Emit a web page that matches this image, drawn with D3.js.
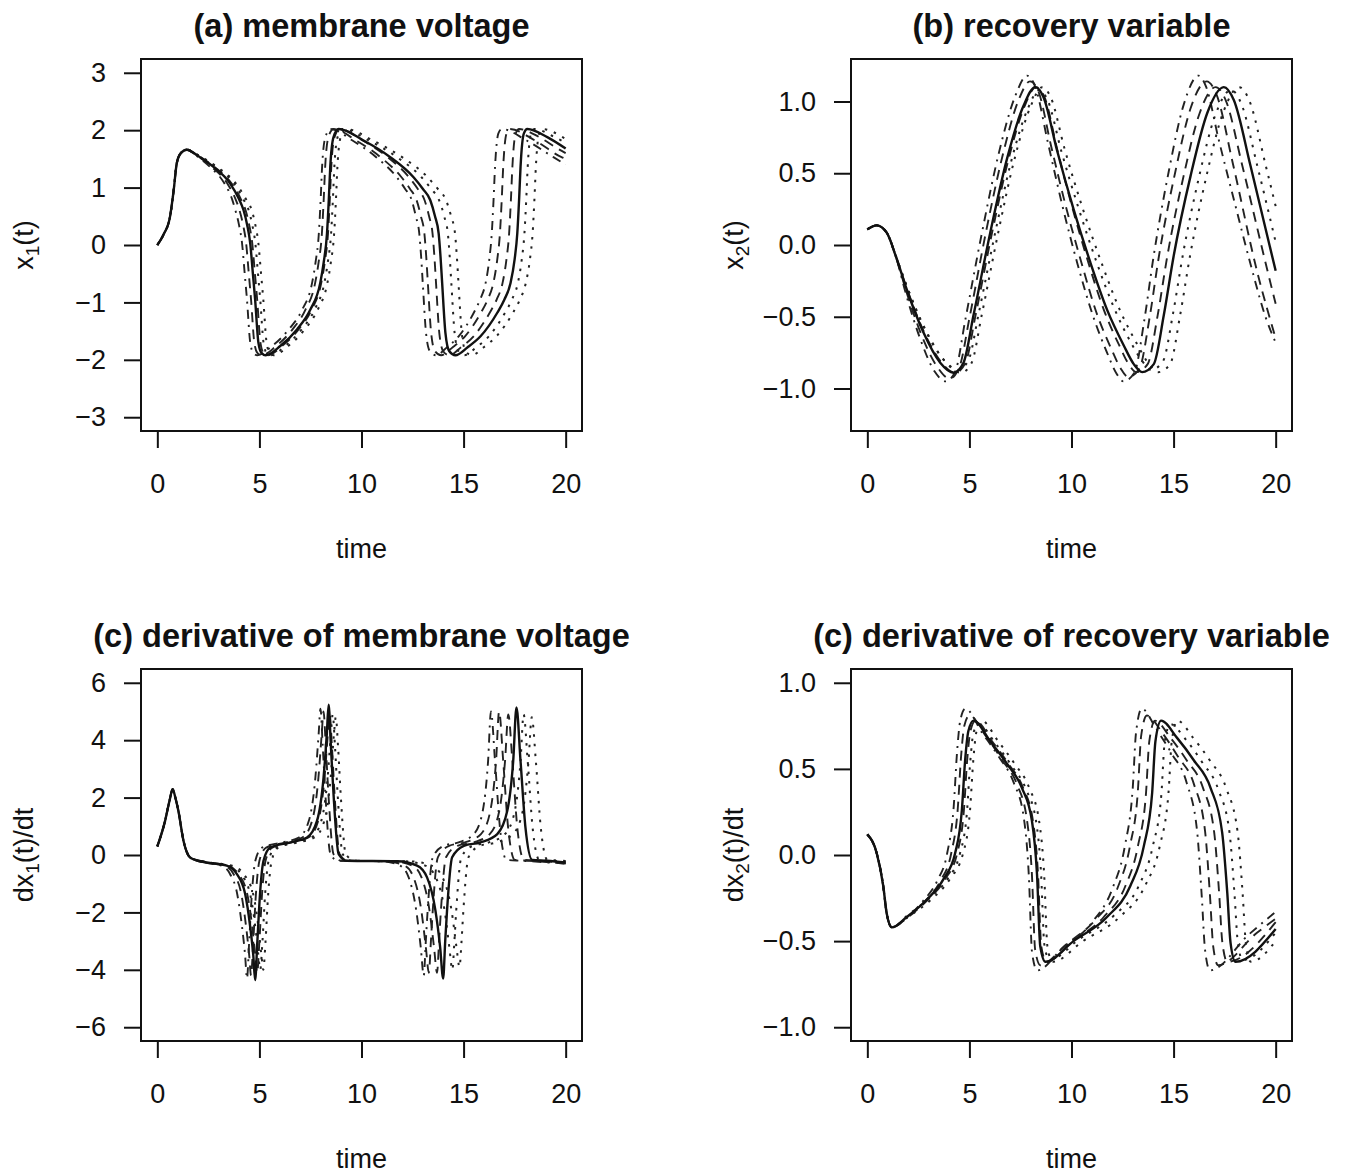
<!DOCTYPE html>
<html>
<head>
<meta charset="utf-8">
<script src="https://cdn.jsdelivr.net/npm/d3@7"></script>
<style>
  body { margin: 0; background: #fff; }
  text { font-family: "Liberation Sans", Arial, Helvetica, sans-serif; fill: #111; }
</style>
</head>
<body>
<div id="plot"></div>
<script>
// tick values
var timeTicks = [0, 5, 10, 15, 20]
var voltTicks = [-3, -2, -1, 0, 1, 2, 3]
var recovTicks = [-1.0, -0.5, 0.0, 0.5, 1.0]
var dVoltTicks = [-6, -4, -2, 0, 2, 4, 6]
var dRecovTicks = [-1.0, -0.5, 0.0, 0.5, 1.0]

// (a) membrane voltage: [time, value], true curve then 5 estimates
var voltTrue = [[0,0],[0.3,0.18],[0.62,0.49],[0.8,0.95],[0.95,1.42],[1.15,1.6],[1.44,1.66],[2.0,1.55],[2.75,1.36],[3.57,1.07],[4.0,0.8],[4.22,0.61],[4.4,0.35],[4.55,0.03],[4.68,-0.5],[4.79,-0.95],[4.95,-1.7],[5.1,-1.88],[5.3,-1.92],[6.02,-1.76],[6.84,-1.47],[7.49,-1.13],[7.98,-0.66],[8.15,-0.3],[8.31,0.2],[8.4,0.8],[8.47,1.36],[8.63,1.88],[8.88,2.02],[10.1,1.82],[11.41,1.53],[12.55,1.18],[13.0,0.98],[13.37,0.78],[13.6,0.5],[13.78,0.2],[13.87,-0.2],[13.95,-0.66],[14.11,-1.53],[14.3,-1.85],[14.6,-1.92],[15.2,-1.78],[15.83,-1.59],[16.65,-1.18],[17.0,-0.95],[17.3,-0.66],[17.5,-0.25],[17.63,0.2],[17.72,0.8],[17.79,1.36],[17.95,1.94],[18.12,2.02],[19.1,1.88],[20,1.68]]
var voltV1 = [[0,0],[0.3,0.18],[0.62,0.49],[0.8,0.95],[0.95,1.42],[1.15,1.6],[1.44,1.66],[1.93,1.55],[2.58,1.36],[3.29,1.07],[3.66,0.8],[3.82,0.61],[4.0,0.35],[4.15,0.03],[4.28,-0.5],[4.39,-0.95],[4.55,-1.7],[4.7,-1.88],[4.9,-1.92],[5.62,-1.76],[6.44,-1.47],[7.09,-1.13],[7.58,-0.66],[7.75,-0.3],[7.91,0.2],[8.0,0.8],[8.07,1.36],[8.23,1.88],[8.48,2.02],[9.56,1.82],[10.72,1.53],[11.73,1.18],[12.13,0.98],[12.46,0.78],[12.66,0.5],[12.83,0.2],[12.92,-0.2],[13.0,-0.66],[13.16,-1.53],[13.35,-1.85],[13.65,-1.92],[14.19,-1.78],[14.76,-1.59],[15.5,-1.18],[15.81,-0.95],[16.08,-0.66],[16.26,-0.25],[16.38,0.2],[16.47,0.8],[16.54,1.36],[16.7,1.94],[16.87,2.02],[18.09,1.82],[19.4,1.53],[20,1.4]]
var voltV2 = [[0,0],[0.3,0.18],[0.62,0.49],[0.8,0.95],[0.95,1.42],[1.15,1.6],[1.44,1.66],[1.97,1.55],[2.66,1.36],[3.43,1.07],[3.83,0.8],[4.02,0.61],[4.2,0.35],[4.35,0.03],[4.48,-0.5],[4.59,-0.95],[4.75,-1.7],[4.9,-1.88],[5.1,-1.92],[5.82,-1.76],[6.62,-1.47],[7.25,-1.13],[7.73,-0.66],[7.9,-0.3],[8.06,0.2],[8.15,0.8],[8.22,1.36],[8.38,1.88],[8.63,2.02],[9.74,1.82],[10.93,1.53],[11.96,1.18],[12.37,0.98],[12.7,0.78],[12.91,0.5],[13.08,0.2],[13.17,-0.2],[13.25,-0.66],[13.41,-1.53],[13.6,-1.85],[13.9,-1.92],[14.47,-1.78],[15.07,-1.59],[15.85,-1.18],[16.18,-0.95],[16.46,-0.66],[16.65,-0.25],[16.78,0.2],[16.87,0.8],[16.94,1.36],[17.1,1.94],[17.27,2.02],[18.5,1.82],[19.8,1.53],[20,1.5]]
var voltV3 = [[0,0],[0.3,0.18],[0.62,0.49],[0.8,0.95],[0.95,1.42],[1.15,1.6],[1.44,1.66],[2.02,1.55],[2.79,1.36],[3.64,1.07],[4.09,0.8],[4.32,0.61],[4.5,0.35],[4.65,0.03],[4.78,-0.5],[4.89,-0.95],[5.05,-1.7],[5.2,-1.88],[5.4,-1.92],[6.11,-1.76],[6.92,-1.47],[7.55,-1.13],[8.03,-0.66],[8.2,-0.3],[8.36,0.2],[8.45,0.8],[8.52,1.36],[8.68,1.88],[8.93,2.02],[10.06,1.82],[11.28,1.53],[12.33,1.18],[12.75,0.98],[13.09,0.78],[13.31,0.5],[13.48,0.2],[13.57,-0.2],[13.65,-0.66],[13.81,-1.53],[14.0,-1.85],[14.3,-1.92],[14.88,-1.78],[15.49,-1.59],[16.28,-1.18],[16.62,-0.95],[16.91,-0.66],[17.1,-0.25],[17.23,0.2],[17.32,0.8],[17.39,1.36],[17.55,1.94],[17.72,2.02],[18.7,1.88],[19.6,1.68],[20,1.6]]
var voltV4 = [[0,0],[0.3,0.18],[0.62,0.49],[0.8,0.95],[0.95,1.42],[1.15,1.6],[1.44,1.66],[2.04,1.55],[2.86,1.36],[3.75,1.07],[4.21,0.8],[4.47,0.61],[4.65,0.35],[4.8,0.03],[4.93,-0.5],[5.04,-0.95],[5.2,-1.7],[5.35,-1.88],[5.55,-1.92],[6.26,-1.76],[7.07,-1.47],[7.7,-1.13],[8.18,-0.66],[8.35,-0.3],[8.51,0.2],[8.6,0.8],[8.67,1.36],[8.83,1.88],[9.08,2.02],[10.36,1.82],[11.74,1.53],[12.94,1.18],[13.41,0.98],[13.8,0.78],[14.05,0.5],[14.23,0.2],[14.32,-0.2],[14.4,-0.66],[14.56,-1.53],[14.75,-1.85],[15.05,-1.92],[15.63,-1.78],[16.24,-1.59],[17.03,-1.18],[17.37,-0.95],[17.66,-0.66],[17.85,-0.25],[17.98,0.2],[18.07,0.8],[18.14,1.36],[18.3,1.94],[18.47,2.02],[19.45,1.88],[20,1.78]]
var voltV5 = [[0,0],[0.3,0.18],[0.62,0.49],[0.8,0.95],[0.95,1.42],[1.15,1.6],[1.44,1.66],[2.07,1.55],[2.92,1.36],[3.85,1.07],[4.34,0.8],[4.62,0.61],[4.8,0.35],[4.95,0.03],[5.08,-0.5],[5.19,-0.95],[5.35,-1.7],[5.5,-1.88],[5.7,-1.92],[6.41,-1.76],[7.22,-1.47],[7.85,-1.13],[8.33,-0.66],[8.5,-0.3],[8.66,0.2],[8.75,0.8],[8.82,1.36],[8.98,1.88],[9.23,2.02],[10.56,1.82],[11.99,1.53],[13.24,1.18],[13.73,0.98],[14.14,0.78],[14.39,0.5],[14.58,0.2],[14.67,-0.2],[14.75,-0.66],[14.91,-1.53],[15.1,-1.85],[15.4,-1.92],[15.99,-1.78],[16.61,-1.59],[17.42,-1.18],[17.76,-0.95],[18.05,-0.66],[18.25,-0.25],[18.38,0.2],[18.47,0.8],[18.54,1.36],[18.7,1.94],[18.87,2.02],[19.85,1.88],[20,1.85]]

// (b) recovery variable
var recovTrue = [[0,0.109],[0.46,0.137],[0.95,0.086],[1.4,-0.08],[1.93,-0.31],[2.75,-0.61],[3.57,-0.82],[4.22,-0.89],[4.71,-0.82],[5.2,-0.49],[6.02,0.086],[6.84,0.6],[7.65,0.97],[8.22,1.10],[8.63,1.03],[9.29,0.66],[10.1,0.25],[10.92,-0.12],[11.74,-0.45],[12.56,-0.70],[13.05,-0.83],[13.46,-0.886],[14.03,-0.83],[14.52,-0.49],[15.0,-0.08],[15.83,0.48],[16.65,0.92],[17.46,1.10],[17.95,1.01],[18.77,0.55],[20,-0.18]]
var recovV1 = [[0,0.109],[0.46,0.137],[0.95,0.086],[1.4,-0.08],[1.87,-0.33],[2.58,-0.65],[3.29,-0.88],[3.84,-0.95],[4.31,-0.88],[4.8,-0.52],[5.62,0.09],[6.44,0.64],[7.25,1.04],[7.82,1.18],[8.23,1.1],[8.85,0.71],[9.56,0.27],[10.29,-0.13],[11.02,-0.48],[11.74,-0.75],[12.18,-0.89],[12.54,-0.95],[13.08,-0.89],[13.57,-0.52],[14.01,-0.09],[14.76,0.51],[15.5,0.98],[16.22,1.18],[16.6,1.1],[17.2,0.74],[18.0,0.29],[18.8,-0.15],[19.5,-0.5],[20,-0.68]]
var recovV2 = [[0,0.109],[0.46,0.137],[0.95,0.086],[1.4,-0.08],[1.9,-0.32],[2.66,-0.63],[3.43,-0.85],[4.03,-0.93],[4.51,-0.85],[5.0,-0.51],[5.81,0.09],[6.62,0.62],[7.41,1.01],[7.97,1.14],[8.38,1.07],[9.0,0.69],[9.74,0.26],[10.48,-0.12],[11.22,-0.47],[11.97,-0.73],[12.41,-0.86],[12.78,-0.92],[13.33,-0.86],[13.82,-0.51],[14.28,-0.08],[15.07,0.5],[15.85,0.96],[16.62,1.14],[17.1,1.05],[17.9,0.57],[19.1,-0.19],[20,-0.65]]
var recovV3 = [[0,0.109],[0.46,0.137],[0.95,0.086],[1.4,-0.08],[1.95,-0.31],[2.79,-0.61],[3.64,-0.82],[4.31,-0.89],[4.81,-0.82],[5.3,-0.49],[6.11,0.086],[6.92,0.6],[7.71,0.97],[8.27,1.10],[8.68,1.03],[9.31,0.66],[10.06,0.25],[10.82,-0.12],[11.58,-0.45],[12.34,-0.70],[12.8,-0.83],[13.18,-0.886],[13.73,-0.83],[14.22,-0.49],[14.69,-0.08],[15.49,0.48],[16.28,0.92],[17.06,1.10],[17.55,1.01],[18.37,0.55],[19.6,-0.18],[20,-0.41]]
var recovV4 = [[0,0.109],[0.46,0.137],[0.95,0.086],[1.4,-0.08],[1.97,-0.3],[2.86,-0.6],[3.75,-0.8],[4.46,-0.87],[4.96,-0.8],[5.45,-0.48],[6.26,0.084],[7.06,0.59],[7.86,0.95],[8.42,1.08],[8.83,1.01],[9.51,0.65],[10.36,0.25],[11.23,-0.12],[12.09,-0.44],[12.95,-0.69],[13.47,-0.81],[13.9,-0.87],[14.48,-0.81],[14.97,-0.48],[15.44,-0.08],[16.24,0.47],[17.03,0.9],[17.82,1.08],[18.3,0.99],[19.12,0.54],[20,0.02]]
var recovV5 = [[0,0.109],[0.46,0.137],[0.95,0.086],[1.4,-0.08],[1.99,-0.31],[2.92,-0.61],[3.86,-0.82],[4.6,-0.89],[5.11,-0.82],[5.6,-0.49],[6.41,0.086],[7.21,0.6],[8.01,0.97],[8.57,1.10],[8.98,1.03],[9.68,0.66],[10.56,0.25],[11.46,-0.12],[12.36,-0.45],[13.25,-0.70],[13.79,-0.83],[14.24,-0.886],[14.83,-0.83],[15.32,-0.49],[15.8,-0.08],[16.61,0.48],[17.42,0.92],[18.21,1.10],[18.7,1.01],[19.52,0.55],[20,0.27]]

// (c) derivative of membrane voltage
var dVoltTrue = [[0,0.3],[0.38,1.19],[0.6,1.9],[0.75,2.29],[0.9,1.95],[1.03,1.54],[1.28,0.5],[1.6,-0.08],[2.0,-0.2],[2.42,-0.26],[3.4,-0.37],[3.89,-0.66],[4.3,-1.35],[4.55,-2.51],[4.7,-3.5],[4.79,-4.36],[4.9,-3.0],[5.03,-1.35],[5.2,-0.2],[5.53,0.26],[6.51,0.44],[7.33,0.61],[7.82,1.19],[8.14,2.69],[8.3,4.2],[8.39,5.24],[8.5,3.8],[8.63,2.12],[8.88,0.03],[9.29,-0.2],[11.74,-0.22],[12.72,-0.37],[13.21,-0.78],[13.62,-1.93],[13.85,-3.2],[14.0,-4.3],[14.1,-3.0],[14.19,-1.93],[14.44,-0.08],[15.01,0.32],[15.83,0.44],[16.65,0.73],[17.14,1.54],[17.43,3.27],[17.59,5.14],[17.79,3.27],[18.03,0.96],[18.36,-0.17],[19.1,-0.2],[20,-0.26]]
var dVoltV1 = [[0,0.3],[0.38,1.19],[0.6,1.9],[0.75,2.29],[0.9,1.95],[1.03,1.54],[1.28,0.5],[1.59,-0.08],[1.93,-0.2],[2.29,-0.26],[3.14,-0.37],[3.56,-0.66],[3.91,-1.35],[4.15,-2.51],[4.3,-3.5],[4.39,-4.3],[4.5,-3.0],[4.63,-1.35],[4.8,-0.2],[5.13,0.26],[6.11,0.44],[6.93,0.61],[7.42,1.19],[7.74,2.69],[7.9,4.2],[7.99,5.1],[8.1,3.8],[8.23,2.12],[8.48,0.03],[8.85,-0.2],[11.02,-0.22],[11.88,-0.37],[12.31,-0.78],[12.68,-1.93],[12.9,-3.2],[13.05,-4.2],[13.15,-3.0],[13.24,-1.93],[13.49,-0.08],[14.02,0.32],[14.76,0.44],[15.5,0.73],[15.94,1.54],[16.2,3.27],[16.34,5.0],[16.54,3.27],[16.78,0.96],[17.1,-0.17],[17.85,-0.2],[20,-0.3]]
var dVoltV2 = [[0,0.3],[0.38,1.19],[0.6,1.9],[0.75,2.29],[0.9,1.95],[1.03,1.54],[1.28,0.5],[1.59,-0.08],[1.97,-0.2],[2.36,-0.26],[3.27,-0.37],[3.73,-0.66],[4.11,-1.35],[4.35,-2.51],[4.5,-3.5],[4.59,-4.2],[4.7,-3.0],[4.83,-1.35],[5.0,-0.2],[5.33,0.26],[6.29,0.44],[7.1,0.61],[7.58,1.19],[7.89,2.69],[8.05,4.2],[8.14,5.0],[8.25,3.8],[8.38,2.12],[8.63,0.03],[9.0,-0.2],[11.22,-0.22],[12.11,-0.37],[12.55,-0.78],[12.93,-1.93],[13.15,-3.2],[13.3,-4.1],[13.4,-3.0],[13.49,-1.93],[13.74,-0.08],[14.29,0.32],[15.07,0.44],[15.85,0.73],[16.31,1.54],[16.59,3.27],[16.74,5.0],[16.94,3.27],[17.18,0.96],[17.51,-0.17],[18.25,-0.2],[20,-0.3]]
var dVoltV3 = [[0,0.3],[0.38,1.19],[0.6,1.9],[0.75,2.29],[0.9,1.95],[1.03,1.54],[1.28,0.5],[1.6,-0.08],[2.02,-0.2],[2.45,-0.26],[3.47,-0.37],[3.97,-0.66],[4.4,-1.35],[4.65,-2.51],[4.8,-3.5],[4.89,-4.1],[5.0,-3.0],[5.13,-1.35],[5.3,-0.2],[5.63,0.26],[6.59,0.44],[7.4,0.61],[7.88,1.19],[8.19,2.69],[8.35,4.2],[8.44,4.9],[8.55,3.8],[8.68,2.12],[8.93,0.03],[9.31,-0.2],[11.58,-0.22],[12.49,-0.37],[12.94,-0.78],[13.33,-1.93],[13.55,-3.2],[13.7,-4.1],[13.8,-3.0],[13.89,-1.93],[14.14,-0.08],[14.7,0.32],[15.49,0.44],[16.28,0.73],[16.75,1.54],[17.03,3.27],[17.19,4.9],[17.39,3.27],[17.63,0.96],[17.96,-0.17],[18.7,-0.2],[20,-0.28]]
var dVoltV4 = [[0,0.3],[0.38,1.19],[0.6,1.9],[0.75,2.29],[0.9,1.95],[1.03,1.54],[1.28,0.5],[1.61,-0.08],[2.04,-0.2],[2.5,-0.26],[3.57,-0.37],[4.09,-0.66],[4.54,-1.35],[4.8,-2.51],[4.95,-3.5],[5.04,-4.0],[5.15,-3.0],[5.28,-1.35],[5.45,-0.2],[5.78,0.26],[6.74,0.44],[7.55,0.61],[8.03,1.19],[8.34,2.69],[8.5,4.2],[8.59,4.9],[8.7,3.8],[8.83,2.12],[9.08,0.03],[9.51,-0.2],[12.09,-0.22],[13.12,-0.37],[13.64,-0.78],[14.07,-1.93],[14.3,-3.2],[14.45,-4.0],[14.55,-3.0],[14.64,-1.93],[14.89,-0.08],[15.45,0.32],[16.24,0.44],[17.03,0.73],[17.51,1.54],[17.79,3.27],[17.94,4.9],[18.14,3.27],[18.38,0.96],[18.71,-0.17],[19.45,-0.2],[20,-0.23]]
var dVoltV5 = [[0,0.3],[0.38,1.19],[0.6,1.9],[0.75,2.29],[0.9,1.95],[1.03,1.54],[1.28,0.5],[1.61,-0.08],[2.07,-0.2],[2.55,-0.26],[3.66,-0.37],[4.22,-0.66],[4.69,-1.35],[4.95,-2.51],[5.1,-3.5],[5.19,-4.0],[5.3,-3.0],[5.43,-1.35],[5.6,-0.2],[5.93,0.26],[6.89,0.44],[7.7,0.61],[8.18,1.19],[8.49,2.69],[8.65,4.2],[8.74,4.8],[8.85,3.8],[8.98,2.12],[9.23,0.03],[9.68,-0.2],[12.36,-0.22],[13.43,-0.37],[13.97,-0.78],[14.41,-1.93],[14.65,-3.2],[14.8,-3.9],[14.9,-3.0],[14.99,-1.93],[15.24,-0.08],[15.8,0.32],[16.61,0.44],[17.42,0.73],[17.9,1.54],[18.18,3.27],[18.34,4.8],[18.54,3.27],[18.78,0.96],[19.11,-0.17],[19.85,-0.2],[20,-0.21]]

// (d) derivative of recovery variable
var dRecovTrue = [[0,0.12],[0.46,0.01],[0.78,-0.18],[0.95,-0.34],[1.2,-0.42],[1.93,-0.36],[2.91,-0.26],[3.73,-0.14],[4.3,0.01],[4.63,0.26],[4.79,0.55],[4.95,0.72],[5.2,0.78],[6.02,0.66],[6.84,0.53],[7.57,0.39],[8.06,0.20],[8.31,-0.11],[8.47,-0.53],[8.72,-0.62],[10.1,-0.50],[11.74,-0.36],[12.88,-0.18],[13.54,0.05],[13.95,0.36],[14.11,0.66],[14.39,0.78],[15.17,0.68],[15.99,0.55],[16.81,0.39],[17.38,0.13],[17.63,-0.22],[17.79,-0.51],[18.03,-0.62],[20,-0.43]]
var dRecovV1 = [[0,0.12],[0.46,0.01],[0.78,-0.18],[0.95,-0.34],[1.2,-0.42],[1.87,-0.37],[2.71,-0.27],[3.42,-0.15],[3.91,0.01],[4.23,0.28],[4.39,0.59],[4.55,0.78],[4.8,0.85],[5.62,0.71],[6.44,0.57],[7.17,0.42],[7.66,0.22],[7.91,-0.12],[8.07,-0.57],[8.32,-0.67],[9.56,-0.54],[11.02,-0.39],[12.02,-0.19],[12.61,0.05],[13.0,0.39],[13.16,0.71],[13.44,0.85],[14.16,0.73],[14.9,0.59],[15.64,0.42],[16.15,0.14],[16.38,-0.24],[16.54,-0.55],[16.78,-0.67],[18.7,-0.46],[20,-0.33]]
var dRecovV2 = [[0,0.12],[0.46,0.01],[0.78,-0.18],[0.95,-0.34],[1.2,-0.42],[1.9,-0.37],[2.81,-0.27],[3.58,-0.15],[4.11,0.01],[4.43,0.27],[4.59,0.57],[4.75,0.75],[5.0,0.81],[5.81,0.69],[6.61,0.55],[7.33,0.41],[7.81,0.21],[8.06,-0.11],[8.22,-0.55],[8.47,-0.64],[9.74,-0.52],[11.22,-0.37],[12.26,-0.19],[12.86,0.05],[13.25,0.37],[13.41,0.69],[13.69,0.81],[14.44,0.71],[15.22,0.57],[16.0,0.41],[16.54,0.14],[16.78,-0.23],[16.94,-0.53],[17.18,-0.64],[19.1,-0.45],[20,-0.37]]
var dRecovV3 = [[0,0.12],[0.46,0.01],[0.78,-0.18],[0.95,-0.34],[1.2,-0.42],[1.95,-0.36],[2.96,-0.26],[3.81,-0.14],[4.4,0.01],[4.73,0.26],[4.89,0.55],[5.05,0.72],[5.3,0.78],[6.11,0.66],[6.91,0.53],[7.63,0.39],[8.11,0.20],[8.36,-0.11],[8.52,-0.53],[8.77,-0.62],[10.06,-0.50],[11.58,-0.36],[12.64,-0.18],[13.25,0.05],[13.65,0.36],[13.81,0.66],[14.09,0.78],[14.85,0.68],[15.64,0.55],[16.44,0.39],[16.99,0.13],[17.23,-0.22],[17.39,-0.51],[17.63,-0.62],[20,-0.39]]
var dRecovV4 = [[0,0.12],[0.46,0.01],[0.78,-0.18],[0.95,-0.34],[1.2,-0.42],[1.97,-0.35],[3.03,-0.25],[3.92,-0.14],[4.54,0.01],[4.88,0.25],[5.04,0.54],[5.2,0.71],[5.45,0.76],[6.26,0.65],[7.06,0.52],[7.78,0.38],[8.26,0.2],[8.51,-0.11],[8.67,-0.52],[8.92,-0.61],[10.36,-0.49],[12.09,-0.35],[13.29,-0.18],[13.98,0.05],[14.4,0.35],[14.56,0.65],[14.84,0.76],[15.6,0.67],[16.39,0.54],[17.19,0.38],[17.74,0.13],[17.98,-0.22],[18.14,-0.5],[18.38,-0.61],[20,-0.45]]
var dRecovV5 = [[0,0.12],[0.46,0.01],[0.78,-0.18],[0.95,-0.34],[1.2,-0.42],[1.99,-0.36],[3.11,-0.26],[4.04,-0.14],[4.69,0.01],[5.03,0.26],[5.19,0.55],[5.35,0.72],[5.6,0.78],[6.41,0.66],[7.21,0.53],[7.93,0.39],[8.41,0.20],[8.66,-0.11],[8.82,-0.53],[9.07,-0.62],[10.56,-0.50],[12.36,-0.36],[13.6,-0.18],[14.32,0.05],[14.75,0.36],[14.91,0.66],[15.19,0.78],[15.96,0.68],[16.77,0.55],[17.57,0.39],[18.14,0.13],[18.38,-0.22],[18.54,-0.51],[18.78,-0.62],[20,-0.5]]

// line styles: true curve solid, estimates dot-dash / dashed / dotted
var styles = [
  { dash: null, w: 2.4 },
  { dash: "2,6,9,6", w: 1.9 },
  { dash: "10,7", w: 1.9 },
  { dash: "10,7", w: 1.9 },
  { dash: "2.5,7", w: 2 },
  { dash: "2.5,7", w: 2 }
]

var panels = [
  { title: "(a) membrane voltage", ylab: ["x", "1", "(t)"], ylim: [-3, 3], ticks: voltTicks, fmt: d3.format("d"),
    series: [voltV1, voltV2, voltV3, voltV4, voltV5, voltTrue], left: 141, top: 59 },
  { title: "(b) recovery variable", ylab: ["x", "2", "(t)"], ylim: [-1.2, 1.2], ticks: recovTicks, fmt: d3.format(".1f"),
    series: [recovV1, recovV2, recovV3, recovV4, recovV5, recovTrue], left: 851, top: 59 },
  { title: "(c) derivative of membrane voltage", ylab: ["dx", "1", "(t)/dt"], ylim: [-6, 6], ticks: dVoltTicks, fmt: d3.format("d"),
    series: [dVoltV1, dVoltV2, dVoltV3, dVoltV4, dVoltV5, dVoltTrue], left: 141, top: 669 },
  { title: "(c) derivative of recovery variable", ylab: ["dx", "2", "(t)/dt"], ylim: [-1, 1], ticks: dRecovTicks, fmt: d3.format(".1f"),
    series: [dRecovV1, dRecovV2, dRecovV3, dRecovV4, dRecovV5, dRecovTrue], left: 851, top: 669 }
]
// series order above draws estimates first, solid last
var styleOrder = [1, 2, 3, 4, 5, 0]

var boxW = 441, boxH = 372

var svg = d3.select("#plot")
  .append("svg")
  .attr("width", 1358)
  .attr("height", 1174)

svg.append("rect").attr("width", 1358).attr("height", 1174).attr("fill", "#fff")

panels.forEach(function (p, pi) {
  var g = svg.append("g")
    .attr("transform", "translate(" + p.left + "," + p.top + ")")

  // R style 4% axis extension
  var xScale = d3.scaleLinear().domain([-0.8, 20.8]).range([0, boxW])
  var pad = (p.ylim[1] - p.ylim[0]) * 0.04
  var yScale = d3.scaleLinear().domain([p.ylim[0] - pad, p.ylim[1] + pad]).range([boxH, 0])

  var clipId = "clip" + pi
  g.append("clipPath").attr("id", clipId)
    .append("rect").attr("width", boxW).attr("height", boxH)

  var line = d3.line()
    .x(d => xScale(d[0]))
    .y(d => yScale(d[1]))
    .curve(d3.curveMonotoneX)

  var lines = g.append("g").attr("clip-path", "url(#" + clipId + ")")
  p.series.forEach(function (s, si) {
    var st = styles[styleOrder[si]]
    lines.append("path")
      .datum(s)
      .attr("d", line)
      .attr("fill", "none")
      .attr("stroke", st.dash ? "#222" : "#111")
      .attr("stroke-width", st.w)
      .attr("stroke-dasharray", st.dash)
      .attr("stroke-linejoin", "round")
  })

  var xAxis = g.append("g")
    .attr("transform", "translate(0," + boxH + ")")
    .call(d3.axisBottom(xScale).tickValues(timeTicks).tickSize(17).tickPadding(26).tickFormat(d3.format("d")))
  var yAxis = g.append("g")
    .call(d3.axisLeft(yScale).tickValues(p.ticks).tickSize(17).tickPadding(18).tickFormat(p.fmt))

  ;[xAxis, yAxis].forEach(function (ax) {
    ax.select(".domain").remove()
    ax.selectAll("line").attr("stroke", "#111").attr("stroke-width", 2)
    ax.selectAll("text")
      .attr("font-size", 27)
      .attr("font-family", "'Liberation Sans', Arial, Helvetica, sans-serif")
      .attr("fill", "#111")
  })

  g.append("rect")
    .attr("width", boxW).attr("height", boxH)
    .attr("fill", "none").attr("stroke", "#111").attr("stroke-width", 2)

  g.append("text")
    .attr("x", boxW / 2).attr("y", -22)
    .attr("text-anchor", "middle")
    .attr("font-size", 32.5).attr("font-weight", "bold")
    .text(p.title)

  g.append("text")
    .attr("x", boxW / 2).attr("y", 499)
    .attr("text-anchor", "middle")
    .attr("font-size", 27)
    .text("time")

  var yl = g.append("text")
    .attr("transform", "translate(-108," + (boxH / 2) + ") rotate(-90)")
    .attr("text-anchor", "middle")
    .attr("font-size", 27)
  yl.append("tspan").text(p.ylab[0])
  yl.append("tspan").attr("font-size", 19).attr("dy", 6).text(p.ylab[1])
  yl.append("tspan").attr("dy", -6).text(p.ylab[2])
})
</script>
</body>
</html>
